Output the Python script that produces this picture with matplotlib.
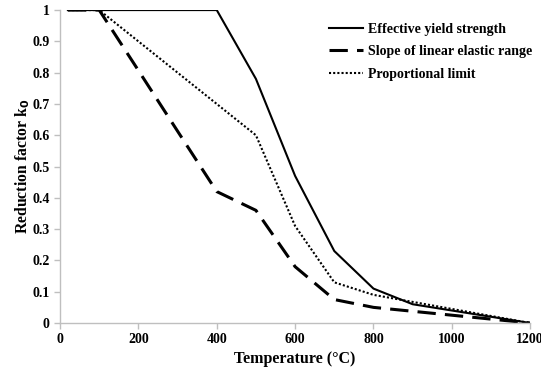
import matplotlib
matplotlib.use("Agg")
import matplotlib.pyplot as plt

temps = [20, 100, 200, 300, 400, 500, 600, 700, 800, 900, 1000, 1100, 1200]
yield_strength = [1, 1, 1, 1, 1, 0.78, 0.47, 0.23, 0.11, 0.06, 0.04, 0.02, 0]
slope_elastic = [1, 1, 0.807, 0.613, 0.42, 0.36, 0.18, 0.075, 0.05, 0.0375, 0.025, 0.0125, 0]
prop_limit = [1, 1, 0.9, 0.8, 0.7, 0.6, 0.31, 0.13, 0.09, 0.0675, 0.045, 0.0225, 0]

plt.rcParams['font.family'] = ['Liberation Serif', 'DejaVu Serif']
plt.rcParams['font.weight'] = 'bold'

fig = plt.figure(figsize=(5.41, 3.73), dpi=100)
ax = fig.add_axes([0.111, 0.134, 0.869, 0.839])

ax.plot(temps, yield_strength, color='black', lw=1.5, linestyle='-', label='Effective yield strength')
ax.plot(temps, slope_elastic, color='black', lw=2.2, linestyle=(0, (6, 3)), label='Slope of linear elastic range')
ax.plot(temps, prop_limit, color='black', lw=1.5, linestyle=(0, (1, 1)), label='Proportional limit')

ax.set_xlim(0, 1200)
ax.set_ylim(0, 1)
ax.set_xticks([0, 200, 400, 600, 800, 1000, 1200])
ax.set_yticks([0, 0.1, 0.2, 0.3, 0.4, 0.5, 0.6, 0.7, 0.8, 0.9, 1])
ax.set_yticklabels(['0', '0.1', '0.2', '0.3', '0.4', '0.5', '0.6', '0.7', '0.8', '0.9', '1'])
ax.tick_params(axis='both', labelsize=10, colors='black', length=4, width=1)
ax.tick_params(axis='both', color='#bfbfbf')
for lab in ax.get_xticklabels() + ax.get_yticklabels():
    lab.set_fontweight('bold')
for s in ['top', 'right']:
    ax.spines[s].set_visible(False)
for s in ['left', 'bottom']:
    ax.spines[s].set_color('#bfbfbf')
    ax.spines[s].set_linewidth(1)

ax.set_xlabel('Temperature (°C)', fontsize=11.5, fontweight='bold', labelpad=3)
ax.set_ylabel('Reduction factor k$_\\mathbf{0}$', fontsize=11.3, fontweight='bold', labelpad=0)

leg = ax.legend(loc='upper right', bbox_to_anchor=(1.03, 1.0), frameon=False, fontsize=10,
                handlelength=2.5, handletextpad=0.3, labelspacing=0.7)

fig.savefig('out.png', dpi=100)
